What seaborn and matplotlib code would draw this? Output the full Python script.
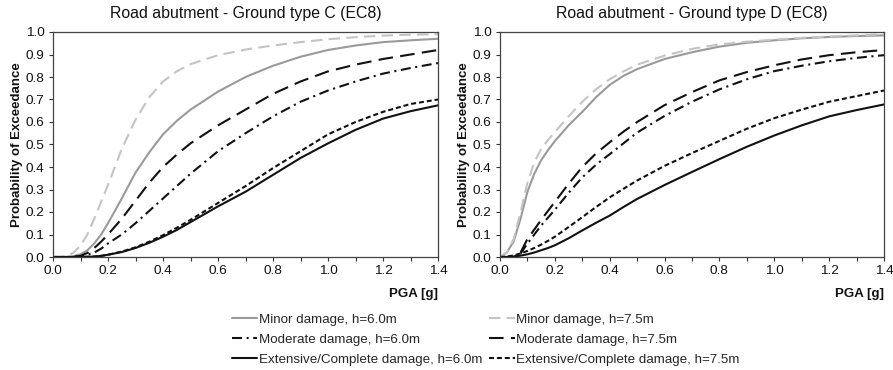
import matplotlib
matplotlib.use("Agg")
import matplotlib.pyplot as plt
import seaborn as sns
from matplotlib.ticker import MultipleLocator, FormatStrFormatter

sns.set_theme(style="ticks")
plt.rcParams['font.family'] = ['Liberation Sans', 'DejaVu Sans']

pga = [0.0, 0.025, 0.05, 0.075, 0.1, 0.125, 0.15, 0.175, 0.2, 0.25, 0.3, 0.35, 0.4, 0.45,
       0.5, 0.6, 0.7, 0.8, 0.9, 1.0, 1.1, 1.2, 1.3, 1.4]

# Ground type C
c_minor_60 = [0, 0, 0.0, 0.004, 0.012, 0.03, 0.06, 0.1, 0.15, 0.26, 0.375, 0.465, 0.545, 0.605,
              0.655, 0.735, 0.80, 0.85, 0.89, 0.92, 0.94, 0.955, 0.963, 0.97]
c_minor_75 = [0, 0, 0.003, 0.02, 0.05, 0.1, 0.17, 0.245, 0.32, 0.48, 0.61, 0.71, 0.78, 0.825,
              0.857, 0.897, 0.922, 0.94, 0.955, 0.968, 0.977, 0.984, 0.988, 0.99]
c_mod_60 = [0, 0, 0, 0.001, 0.003, 0.01, 0.02, 0.037, 0.06, 0.10, 0.15, 0.205, 0.26, 0.315,
            0.37, 0.47, 0.55, 0.625, 0.69, 0.74, 0.78, 0.815, 0.84, 0.862]
c_mod_75 = [0, 0, 0, 0.002, 0.005, 0.018, 0.04, 0.068, 0.10, 0.17, 0.25, 0.33, 0.40, 0.455,
            0.505, 0.585, 0.655, 0.725, 0.78, 0.825, 0.855, 0.88, 0.90, 0.92]
c_ext_60 = [0, 0, 0, 0, 0, 0.001, 0.002, 0.005, 0.01, 0.022, 0.04, 0.063, 0.09, 0.12,
            0.155, 0.225, 0.29, 0.365, 0.44, 0.505, 0.565, 0.615, 0.648, 0.674]
c_ext_75 = [0, 0, 0, 0, 0, 0.001, 0.002, 0.005, 0.01, 0.024, 0.043, 0.068, 0.097, 0.13,
            0.165, 0.24, 0.315, 0.395, 0.47, 0.545, 0.60, 0.645, 0.68, 0.70]

# Ground type D
d_minor_60 = [0, 0.02, 0.07, 0.17, 0.29, 0.37, 0.43, 0.475, 0.515, 0.585, 0.645, 0.71, 0.765, 0.805,
              0.835, 0.88, 0.91, 0.935, 0.952, 0.963, 0.972, 0.978, 0.982, 0.985]
d_minor_75 = [0, 0.02, 0.08, 0.2, 0.33, 0.42, 0.48, 0.52, 0.555, 0.625, 0.69, 0.745, 0.79, 0.825,
              0.855, 0.895, 0.925, 0.945, 0.957, 0.966, 0.974, 0.98, 0.985, 0.99]
d_mod_60 = [0, 0, 0, 0.015, 0.06, 0.10, 0.14, 0.175, 0.21, 0.285, 0.354, 0.41, 0.457, 0.505,
            0.553, 0.627, 0.69, 0.745, 0.79, 0.826, 0.85, 0.87, 0.885, 0.897]
d_mod_75 = [0, 0, 0, 0.02, 0.08, 0.122, 0.165, 0.205, 0.245, 0.325, 0.40, 0.46, 0.51, 0.557,
            0.60, 0.675, 0.733, 0.785, 0.822, 0.852, 0.878, 0.897, 0.91, 0.92]
d_ext_60 = [0, 0.0, 0.002, 0.006, 0.012, 0.02, 0.03, 0.04, 0.052, 0.083, 0.118, 0.152, 0.184, 0.222,
            0.258, 0.32, 0.378, 0.435, 0.49, 0.54, 0.585, 0.625, 0.653, 0.678]
d_ext_75 = [0, 0.002, 0.007, 0.016, 0.027, 0.04, 0.055, 0.072, 0.09, 0.133, 0.177, 0.222, 0.265, 0.303,
            0.34, 0.405, 0.462, 0.516, 0.57, 0.617, 0.655, 0.69, 0.715, 0.74]

labels = ["Minor damage, h=6.0m", "Moderate damage, h=6.0m", "Extensive/Complete damage, h=6.0m",
          "Minor damage, h=7.5m", "Moderate damage, h=7.5m", "Extensive/Complete damage, h=7.5m"]
titles = ["Road abutment - Ground type C (EC8)", "Road abutment - Ground type D (EC8)"]

styles = [
    dict(color="#9a9a9a", linestyle="-"),
    dict(color="#111111", linestyle=(0, (4.8, 2.2, 1.0, 2.2))),
    dict(color="#111111", linestyle="-"),
    dict(color="#c4c4c4", linestyle=(0, (5.5, 3.0))),
    dict(color="#111111", linestyle=(0, (7.0, 3.5))),
    dict(color="#111111", linestyle=(0, (2.4, 1.4))),
]

panels = [
    [c_minor_60, c_mod_60, c_ext_60, c_minor_75, c_mod_75, c_ext_75],
    [d_minor_60, d_mod_60, d_ext_60, d_minor_75, d_mod_75, d_ext_75],
]

fig = plt.figure(figsize=(8.93, 3.70), dpi=100)
ax1 = fig.add_axes([53/893, 1-257/370, 385/893, 225/370])
ax2 = fig.add_axes([500/893, 1-257/370, 384/893, 225/370])

for ax, series, title in zip([ax1, ax2], panels, titles):
    for vals, st, lab in zip(series, styles, labels):
        sns.lineplot(x=pga, y=vals, ax=ax, label=lab, linewidth=1.5, **st)
    ax.set_xlim(0, 1.4)
    ax.set_ylim(0, 1.0)
    ax.xaxis.set_major_locator(MultipleLocator(0.2))
    ax.xaxis.set_minor_locator(MultipleLocator(0.1))
    ax.yaxis.set_major_locator(MultipleLocator(0.1))
    ax.xaxis.set_major_formatter(FormatStrFormatter('%.1f'))
    ax.yaxis.set_major_formatter(FormatStrFormatter('%.1f'))
    ax.tick_params(axis='both', which='both', direction='out', length=3, width=0.8,
                   colors='#333333', labelcolor='#111111', labelsize=9.7, pad=3)
    for sp in ax.spines.values():
        sp.set_visible(True)
        sp.set_color('#444444')
        sp.set_linewidth(0.9)
    ax.set_title(title, fontsize=11.4, pad=10, color='#111111')
    ax.set_ylabel("Probability of Exceedance", fontsize=9.5, fontweight='bold', labelpad=2, color='#111111')
    ax.set_xlabel("PGA [g]", fontsize=9.5, fontweight='bold', loc='right', labelpad=8, color='#111111')
    ax.get_legend().remove()

handles, labs = ax1.get_legend_handles_labels()
fig.legend(handles, labs, ncol=2, loc='upper center', bbox_to_anchor=(0.544, 0.167),
           frameon=False, fontsize=9.6, handlelength=1.9, handletextpad=0.1,
           columnspacing=0.55, labelspacing=0.58, borderaxespad=0)

fig.savefig("out.png", dpi=100)
